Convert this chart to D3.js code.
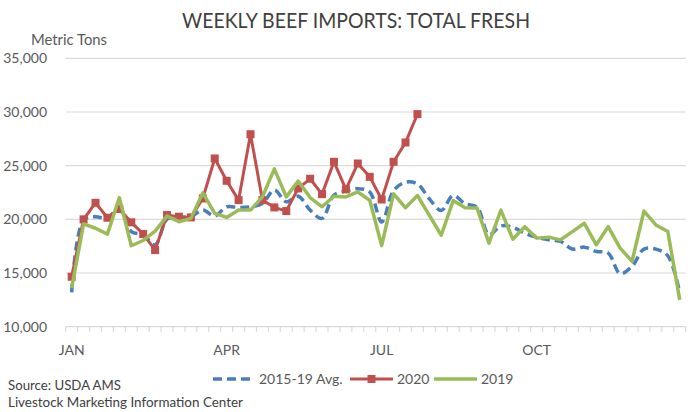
<!DOCTYPE html>
<html><head><meta charset="utf-8">
<script src="https://cdnjs.cloudflare.com/ajax/libs/d3/7.8.5/d3.min.js"></script>
<style>body{margin:0;background:#fff}svg{display:block}text{font-family:Lato,"Open Sans",sans-serif;fill:#404040}</style>
</head><body><svg id="c" width="694" height="412"></svg>
<script>
const weeks = d3.range(52);
const monthLabels = ["JAN","APR","JUL","OCT"];
const monthWeeks = [0,13,26,39];
const yTicks = [10000,15000,20000,25000,30000,35000];
const avg1519 = [13200,19940,20250,20090,21100,18860,18550,17620,20020,20180,20250,20860,20310,21170,21110,21170,21480,22740,21630,22150,20860,20090,22250,22640,22860,22550,19750,22680,23450,23290,21910,20830,22220,21450,21130,18560,19380,19260,18710,18340,18090,17940,17230,17410,17010,16850,14940,15620,17230,17230,16610,13160];
const y2020 = [14650,20000,21540,20150,20960,19720,18630,17140,20400,20240,20180,21950,25670,23590,21790,27930,21790,21110,20770,22880,23780,22350,25360,22790,25200,23960,21850,25360,27160,29800];
const y2019 = [13600,19570,19170,18620,22030,17540,18030,18900,20300,19780,20090,22460,20550,20180,20860,20860,22090,24700,22090,23570,22030,21170,22150,22090,22550,21780,17550,22370,21080,22220,20370,18520,21750,21080,21050,17780,20860,18150,19320,18250,18340,18090,18860,19630,17630,19320,17320,16090,20770,19480,18860,12500];

const svg = d3.select("#c");
const x = d3.scaleBand().domain(weeks).range([65.7,685.7]).padding(0);
const cx = i => x(i) + x.bandwidth()/2;
const y = d3.scaleLinear().domain([10000,35000]).range([326.7,58.3]);

svg.append("g").selectAll("line").data(yTicks.slice(1)).join("line")
  .attr("x1",65.7).attr("x2",685.7).attr("y1",d=>y(d)).attr("y2",d=>y(d))
  .attr("stroke","#d9d9d9").attr("stroke-width",1.2);
svg.append("line").attr("x1",65.7).attr("x2",685.7).attr("y1",y(10000)).attr("y2",y(10000)).attr("stroke","#d9d9d9").attr("stroke-width",1.2);
svg.append("g").selectAll("line").data(weeks.concat([52])).join("line")
  .attr("x1",d=>d<52?x(d):x(51)+x.bandwidth()).attr("x2",d=>d<52?x(d):x(51)+x.bandwidth())
  .attr("y1",y(10000)).attr("y2",y(10000)+5).attr("stroke","#d9d9d9").attr("stroke-width",1.2);

svg.append("g").selectAll("text").data(yTicks).join("text")
  .attr("x",47).attr("y",d=>y(d)).attr("dy","0.35em").attr("text-anchor","end")
  .style("font-size","14px").style("fill","#595959").text(d3.format(","));
svg.append("g").selectAll("text").data(monthWeeks).join("text")
  .attr("x",d=>cx(d)).attr("y",350).attr("dy","0.35em").attr("text-anchor","middle")
  .style("font-size","14px").style("fill","#595959").text((d,i)=>monthLabels[i]);

svg.append("text").attr("x",31).attr("y",45).style("font-size","14.5px").style("fill","#595959")
  .attr("textLength",76).attr("lengthAdjust","spacingAndGlyphs").text("Metric Tons");
svg.append("text").attr("x",356).attr("y",28).attr("text-anchor","middle").style("font-size","22px").style("fill","#404040")
  .attr("textLength",348).attr("lengthAdjust","spacingAndGlyphs").text("WEEKLY BEEF IMPORTS: TOTAL FRESH");

const line = d3.line().x((d,i)=>cx(i)).y(d=>y(d));
const smooth = d3.line().x((d,i)=>cx(i)).y(d=>y(d)).curve(d3.curveCatmullRom.alpha(0.5));

svg.append("path").datum(avg1519).attr("d",smooth).attr("fill","none")
  .attr("stroke","#4a7ebb").attr("stroke-width",3.5).attr("stroke-dasharray","9,5");
svg.append("path").datum(y2020).attr("d",line).attr("fill","none")
  .attr("stroke","#c0504d").attr("stroke-width",3);
svg.append("g").selectAll("rect").data(y2020).join("rect")
  .attr("x",(d,i)=>cx(i)-4).attr("y",d=>y(d)-4).attr("width",8).attr("height",8).attr("fill","#c0504d");
svg.append("path").datum(y2019).attr("d",line).attr("fill","none")
  .attr("stroke","#9bbb59").attr("stroke-width",3.5).attr("stroke-linejoin","round");

const ly = 379;
const lg = svg.append("g");
lg.append("line").attr("x1",213).attr("x2",252).attr("y1",ly).attr("y2",ly).attr("stroke","#4a7ebb").attr("stroke-width",3.5).attr("stroke-dasharray","9,5");
lg.append("text").attr("x",259).attr("y",ly).attr("dy","0.35em").style("font-size","14px").style("fill","#595959").text("2015-19 Avg.");
lg.append("line").attr("x1",350).attr("x2",393).attr("y1",ly).attr("y2",ly).attr("stroke","#c0504d").attr("stroke-width",3);
lg.append("rect").attr("x",367.5).attr("y",ly-4).attr("width",8).attr("height",8).attr("fill","#c0504d");
lg.append("text").attr("x",397).attr("y",ly).attr("dy","0.35em").style("font-size","14px").style("fill","#595959").text("2020");
lg.append("line").attr("x1",434).attr("x2",477).attr("y1",ly).attr("y2",ly).attr("stroke","#9bbb59").attr("stroke-width",3.5);
lg.append("text").attr("x",481).attr("y",ly).attr("dy","0.35em").style("font-size","14px").style("fill","#595959").text("2019");

svg.append("text").attr("x",8).attr("y",390).style("font-size","13px").style("fill","#404040")
  .attr("textLength",113).attr("lengthAdjust","spacingAndGlyphs").text("Source: USDA AMS");
svg.append("text").attr("x",8).attr("y",407).style("font-size","13px").style("fill","#404040")
  .attr("textLength",235).attr("lengthAdjust","spacingAndGlyphs").text("Livestock Marketing Information Center");
</script></body></html>
